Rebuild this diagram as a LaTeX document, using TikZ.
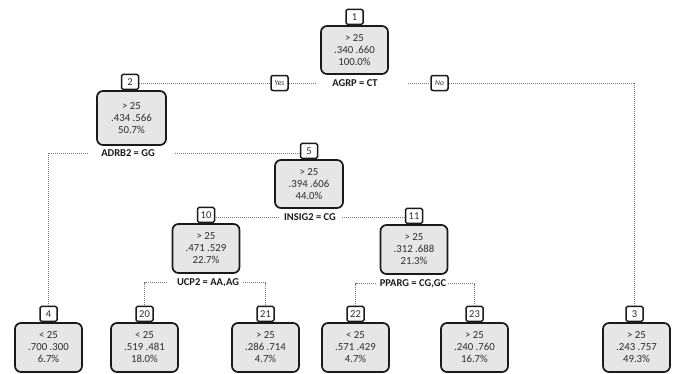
\documentclass[tikz,border=0pt]{standalone}
\usepackage{fontspec}
\setmainfont{Carlito}
\definecolor{boxfill}{HTML}{E6E6E6}
\definecolor{textgray}{HTML}{2E2E2E}
\definecolor{bordercol}{HTML}{1A1A1A}
\definecolor{linkgray}{HTML}{7A7A7A}
\begin{document}
\begin{tikzpicture}[x=1pt,y=-1pt,
  mainbox/.style={draw=bordercol, line width=1.7pt, rounded corners=6pt, fill=boxfill,
    minimum width=67pt, minimum height=49pt, inner sep=0pt, align=center,
    font=\fontsize{10.8}{12}\selectfont, text=textgray},
  numbox/.style={draw=bordercol, line width=1.5pt, rounded corners=1.5pt, fill=white,
    minimum width=17pt, minimum height=15pt, inner sep=0pt, anchor=south,
    font=\fontsize{10.5}{12}\selectfont, text=textgray},
  splitlabel/.style={font=\bfseries\fontsize{10.5}{12}\selectfont, inner sep=0pt, text=bordercol},
  yesno/.style={draw=bordercol, line width=1.5pt, rounded corners=2pt, fill=white,
    minimum width=17pt, minimum height=15pt, inner sep=0pt,
    font=\itshape\fontsize{7.5}{9}\selectfont, text=textgray},
  link/.style={densely dotted, linkgray, line width=1pt}]
\useasboundingbox (0,0) rectangle (674,373);

% main boxes
\node[mainbox, minimum height=48pt] (m1) at (354.5,50) {> 25\\.340 .660\\100.0\%};
\node[mainbox, minimum height=54pt, minimum width=69pt] (m2) at (131.5,118) {> 25\\.434 .566\\50.7\%};
\node[mainbox, minimum height=48pt, minimum width=68pt] (m5) at (309,184) {> 25\\.394 .606\\44.0\%};
\node[mainbox] (m10) at (206,248.5) {> 25\\.471 .529\\22.7\%};
\node[mainbox] (m11) at (414,249.5) {> 25\\.312 .688\\21.3\%};
\node[mainbox] (m4) at (48.5,347.5) {< 25\\.700 .300\\6.7\%};
\node[mainbox] (m20) at (144.5,347.5) {< 25\\.519 .481\\18.0\%};
\node[mainbox] (m21) at (265.5,347.5) {> 25\\.286 .714\\4.7\%};
\node[mainbox] (m22) at (355.5,347.5) {< 25\\.571 .429\\4.7\%};
\node[mainbox] (m23) at (474.5,347.5) {> 25\\.240 .760\\16.7\%};
\node[mainbox] (m3) at (636.5,347.5) {> 25\\.243 .757\\49.3\%};

% number boxes
\node[numbox] (n1) at (m1.north) {1};
\node[numbox] (n2) at ([xshift=-1.5pt]m2.north) {2};
\node[numbox] (n5) at (m5.north) {5};
\node[numbox] (n10) at (m10.north) {10};
\node[numbox] (n11) at (m11.north) {11};
\node[numbox] (n4) at (m4.north) {4};
\node[numbox] (n20) at (m20.north) {20};
\node[numbox] (n21) at (m21.north) {21};
\node[numbox] (n22) at (m22.north) {22};
\node[numbox] (n23) at (m23.north) {23};
\node[numbox] (n3) at ([xshift=-2pt]m3.north) {3};

% split labels
\node[splitlabel] (l1) at (355,83) {AGRP = CT};
\node[splitlabel] (l2) at (128,153) {ADRB2 = GG};
\node[splitlabel] (l5) at (310,217) {INSIG2 = CG};
\node[splitlabel] (l10) at (208,282.5) {UCP2 = AA,AG};
\node[splitlabel] (l11) at (413,283.5) {PPARG = CG,GC};

% yes / no
\node[yesno] (yes) at (279.5,83) {Yes};
\node[yesno] (no) at (439.5,83) {No};

% connectors
\draw[link, shorten <=16pt] (l1.west) -- (yes.east);
\draw[link] (yes.west) -- (yes.west -| n2.east);
\draw[link, shorten <=30pt] (l1.east) -- (no.west);
\draw[link] (no.east) -| (n3.north);

\draw[link, shorten <=13pt] (l2.west) -| (n4.north);
\draw[link, shorten <=20pt] (l2.east) -- (l2.east -| n5.west);

\draw[link, shorten <=5pt] (l5.west) -- (l5.west -| n10.east);
\draw[link, shorten <=6pt] (l5.east) -- (l5.east -| n11.west);

\draw[link, shorten <=10pt] (l10.west) -| (n20.north);
\draw[link, shorten <=4pt] (l10.east) -| (n21.north);

\draw[link, shorten <=4pt] (l11.west) -| (n22.north);
\draw[link, shorten <=2pt] (l11.east) -| (n23.north);
\end{tikzpicture}
\end{document}
